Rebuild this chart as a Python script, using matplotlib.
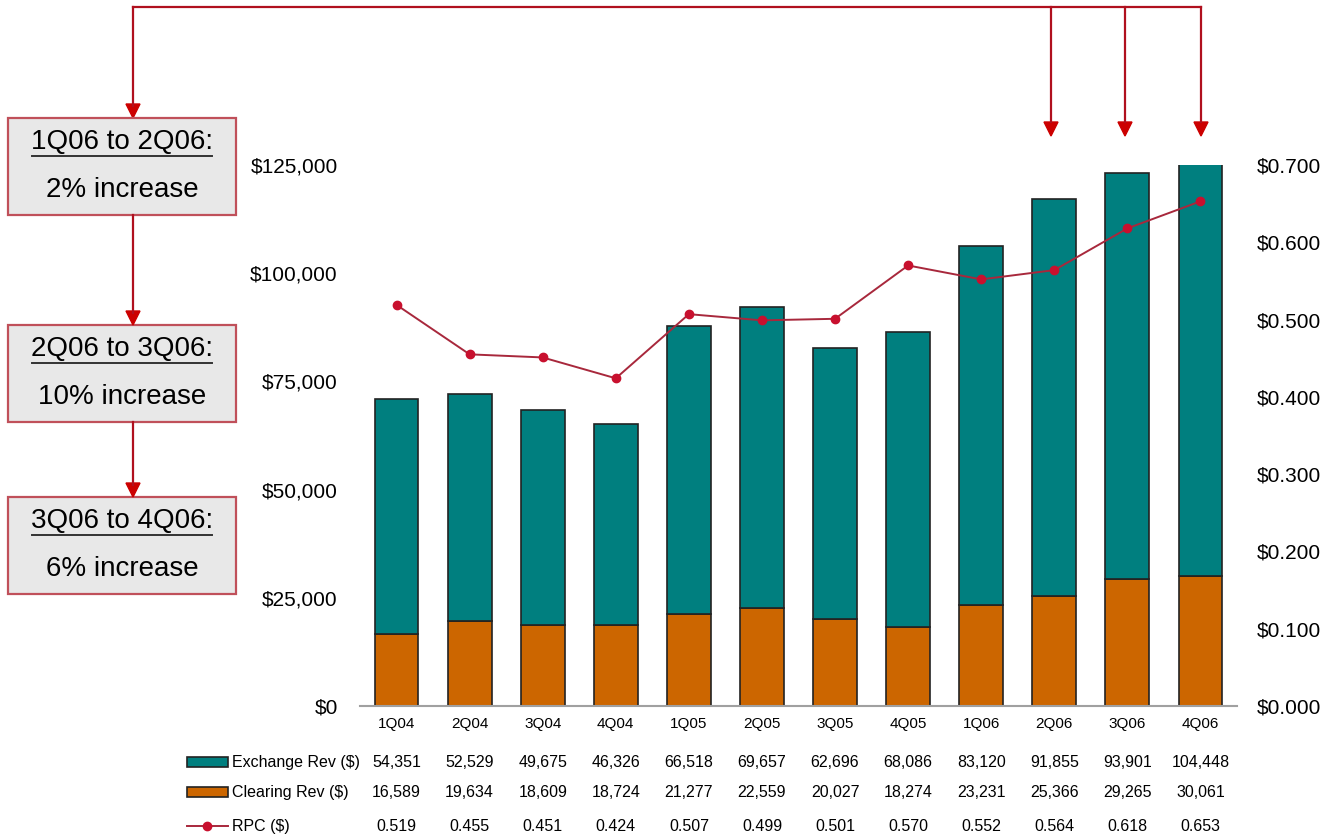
import numpy as np
import matplotlib.pyplot as plt
from matplotlib.patches import Rectangle, Polygon

plt.rcParams['font.family'] = ['Liberation Sans', 'DejaVu Sans']

quarters = ['1Q04', '2Q04', '3Q04', '4Q04', '1Q05', '2Q05', '3Q05', '4Q05',
            '1Q06', '2Q06', '3Q06', '4Q06']
exchange_rev = [54351, 52529, 49675, 46326, 66518, 69657, 62696, 68086,
                83120, 91855, 93901, 104448]
clearing_rev = [16589, 19634, 18609, 18724, 21277, 22559, 20027, 18274,
                23231, 25366, 29265, 30061]
rpc = [0.519, 0.455, 0.451, 0.424, 0.507, 0.499, 0.501, 0.570,
       0.552, 0.564, 0.618, 0.653]
left_ticks = [0, 25000, 50000, 75000, 100000, 125000]
right_ticks = [0.0, 0.1, 0.2, 0.3, 0.4, 0.5, 0.6, 0.7]
boxes = [('1Q06 to 2Q06:', '2% increase'),
         ('2Q06 to 3Q06:', '10% increase'),
         ('3Q06 to 4Q06:', '6% increase')]

teal = '#007F7F'
orange = '#CC6600'
line_red = '#A8283C'
marker_red = '#C8102E'
arrow_red = '#B0101E'

W, H = 1331, 839
fig = plt.figure(figsize=(W / 100, H / 100), dpi=100)
ax = fig.add_axes([360 / W, 1 - 706 / H, 877 / W, 541 / H])
x = np.arange(len(quarters))

ax.bar(x, clearing_rev, 0.6, color=orange, edgecolor='#222222', linewidth=1.2, zorder=2)
ax.bar(x, exchange_rev, 0.6, bottom=clearing_rev, color=teal, edgecolor='#222222',
       linewidth=1.2, zorder=2)
ax.set_xlim(-0.5, len(quarters) - 0.5)
ax.set_ylim(0, 125000)
ax.set_yticks(left_ticks)
ax.set_yticklabels(['$' + format(v, ',') for v in left_ticks], fontsize=15)
ax.set_xticks(x)
ax.set_xticklabels(quarters, fontsize=11)
ax.tick_params(axis='x', length=0, pad=8)
ax.tick_params(axis='y', length=0, pad=16)
for s in ['top', 'right', 'left']:
    ax.spines[s].set_visible(False)
ax.spines['bottom'].set_color('#A0A0A0')
ax.spines['bottom'].set_linewidth(1.5)

ax2 = ax.twinx()
ax2.plot(x, rpc, color=line_red, linewidth=1.4, marker='o', markersize=6,
         markerfacecolor=marker_red, markeredgecolor=marker_red, zorder=3)
ax2.set_ylim(0, 0.7)
ax2.set_yticks(right_ticks)
ax2.set_yticklabels(['$%.3f' % v for v in right_ticks], fontsize=15)
ax2.tick_params(length=0, pad=14)
for s in ['top', 'right', 'left', 'bottom']:
    ax2.spines[s].set_visible(False)

# data table below chart
rows = [(exchange_rev, lambda v: format(v, ',')),
        (clearing_rev, lambda v: format(v, ',')),
        (rpc, lambda v: '%.3f' % v)]
row_y = [-0.104, -0.159, -0.222]
trans = ax.get_xaxis_transform()
for (vals, fmt), ry in zip(rows, row_y):
    for xi, v in zip(x, vals):
        ax.text(xi, ry, fmt(v), transform=trans, ha='center', va='center', fontsize=11.5)

# overlay in pixel coordinates for legend keys, arrows and boxes
ov = fig.add_axes([0, 0, 1, 1], zorder=5)
ov.set_xlim(0, W)
ov.set_ylim(H, 0)
ov.axis('off')
ov.patch.set_alpha(0)

labels = ['Exchange Rev ($)', 'Clearing Rev ($)', 'RPC ($)']
key_y = [762, 792, 826]
ov.add_patch(Rectangle((187, 757), 41, 10, facecolor=teal, edgecolor='#222222', lw=1.2))
ov.add_patch(Rectangle((187, 787), 41, 10, facecolor=orange, edgecolor='#222222', lw=1.2))
ov.plot([187, 228], [826, 826], color=line_red, lw=1.4)
ov.plot([207], [826], 'o', color=marker_red, markersize=6)
for lab, ky in zip(labels, key_y):
    ov.text(232, ky, lab, ha='left', va='center', fontsize=11.5)


def arrow_head(xc, ytip):
    ov.add_patch(Polygon([(xc - 7, ytip - 14), (xc + 7, ytip - 14), (xc, ytip)],
                         closed=True, facecolor='#CC0000', edgecolor='#CC0000'))


lw = 1.6
ov.plot([133, 1201], [7, 7], color=arrow_red, lw=lw)
ov.plot([133, 133], [7, 106], color=arrow_red, lw=lw)
arrow_head(133, 118)
for xc in [1051, 1125, 1201]:
    ov.plot([xc, xc], [7, 122], color=arrow_red, lw=lw)
    arrow_head(xc, 136)

box_tops = [118, 325, 497]
box_h = 97
for (top_txt, bot_txt), bt in zip(boxes, box_tops):
    ov.add_patch(Rectangle((8, bt), 228, box_h, facecolor='#E8E8E8',
                           edgecolor='#C0505A', lw=1.6))
    ov.text(122, bt + 24, top_txt, ha='center', va='center', fontsize=20)
    ov.plot([32, 212], [bt + 38, bt + 38], color='#333333', lw=1.4)
    ov.text(122, bt + 72, bot_txt, ha='center', va='center', fontsize=20)

ov.plot([133, 133], [118 + box_h, 313], color=arrow_red, lw=lw)
arrow_head(133, 325)
ov.plot([133, 133], [325 + box_h, 485], color=arrow_red, lw=lw)
arrow_head(133, 497)

fig.savefig('out.png', dpi=100)
